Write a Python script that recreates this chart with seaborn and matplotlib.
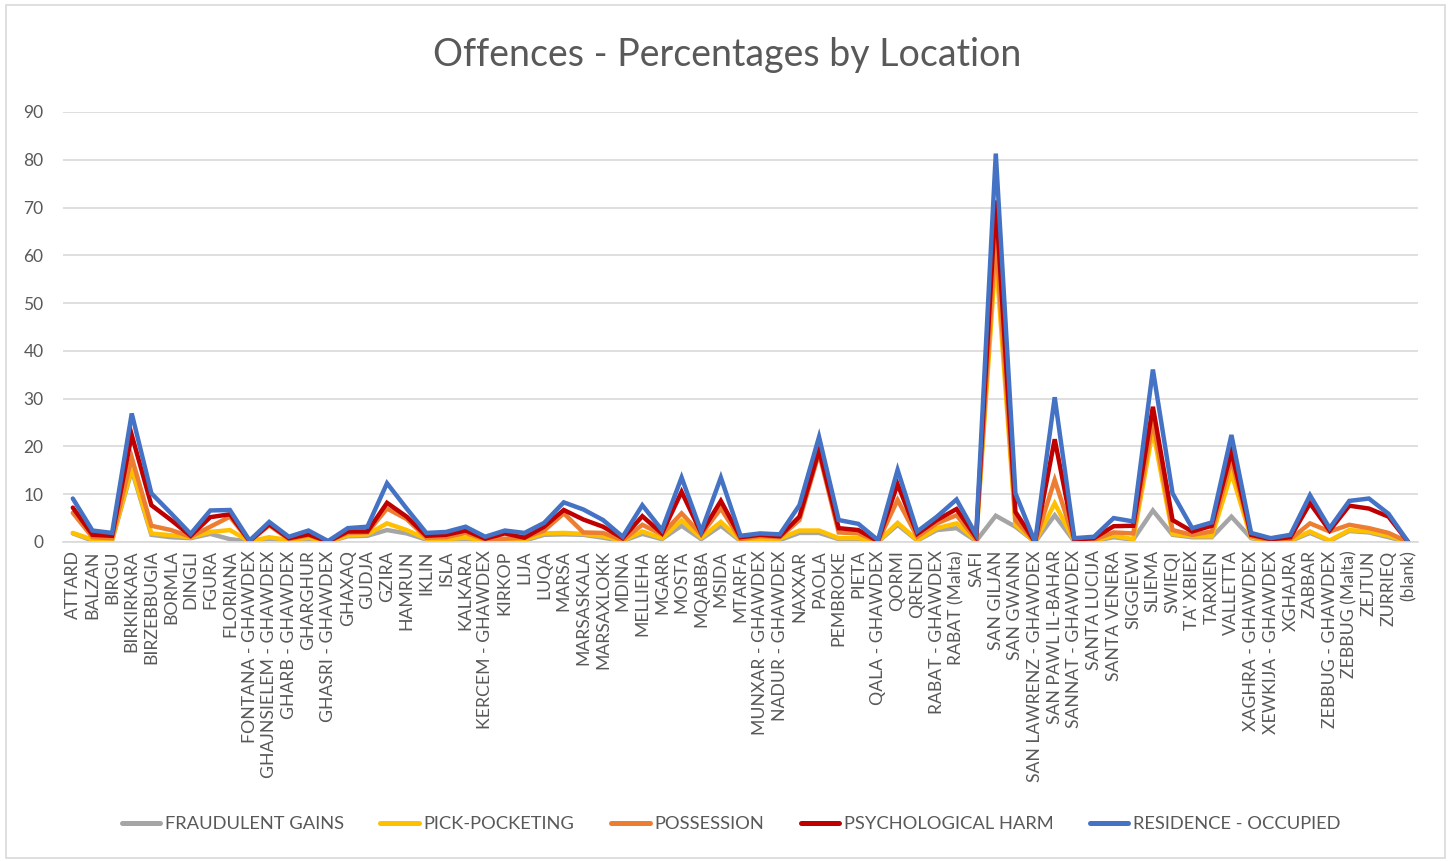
import numpy as np
import pandas as pd
import matplotlib
matplotlib.use("Agg")
import matplotlib.pyplot as plt
from matplotlib.patches import Rectangle
import seaborn as sns

locations = [
    "ATTARD", "BALZAN", "BIRGU", "BIRKIRKARA", "BIRZEBBUGIA", "BORMLA", "DINGLI",
    "FGURA", "FLORIANA", "FONTANA - GHAWDEX", "GHAJNSIELEM - GHAWDEX",
    "GHARB - GHAWDEX", "GHARGHUR", "GHASRI - GHAWDEX", "GHAXAQ", "GUDJA", "GZIRA",
    "HAMRUN", "IKLIN", "ISLA", "KALKARA", "KERCEM - GHAWDEX", "KIRKOP", "LIJA",
    "LUQA", "MARSA", "MARSASKALA", "MARSAXLOKK", "MDINA", "MELLIEHA", "MGARR",
    "MOSTA", "MQABBA", "MSIDA", "MTARFA", "MUNXAR - GHAWDEX", "NADUR - GHAWDEX",
    "NAXXAR", "PAOLA", "PEMBROKE", "PIETA", "QALA - GHAWDEX", "QORMI", "QRENDI",
    "RABAT - GHAWDEX", "RABAT (Malta)", "SAFI", "SAN GILJAN", "SAN GWANN",
    "SAN LAWRENZ - GHAWDEX", "SAN PAWL IL-BAHAR", "SANNAT - GHAWDEX",
    "SANTA LUCIJA", "SANTA VENERA", "SIGGIEWI", "SLIEMA", "SWIEQI", "TA' XBIEX",
    "TARXIEN", "VALLETTA", "XAGHRA - GHAWDEX", "XEWKIJA - GHAWDEX", "XGHAJRA",
    "ZABBAR", "ZEBBUG - GHAWDEX", "ZEBBUG (Malta)", "ZEJTUN", "ZURRIEQ", "(blank)",
]

# Stacked (cumulative) levels as they appear in the chart
fraudulent_gains = [
    1.8, 0.3, 0.3, 15.0, 1.5, 1.0, 0.8, 1.7, 0.6, 0.1, 0.7, 0.3, 0.5, 0.0, 1.2,
    1.3, 2.5, 1.8, 0.5, 0.4, 0.6, 0.2, 0.2, 0.3, 1.5, 1.6, 1.5, 0.9, 0.2, 1.7,
    0.6, 3.4, 0.6, 3.4, 0.2, 0.3, 0.4, 1.9, 1.9, 0.6, 0.6, 0.0, 3.6, 0.3, 2.5,
    2.9, 0.2, 5.5, 3.2, 0.0, 5.6, 0.1, 0.2, 1.0, 0.5, 6.6, 1.5, 1.0, 1.0, 5.3,
    0.8, 0.2, 0.2, 1.9, 0.2, 2.3, 2.0, 1.0, 0.0,
]
pick_pocketing = [
    1.9, 0.5, 0.4, 15.4, 1.8, 1.4, 1.0, 2.1, 2.5, 0.1, 1.0, 0.4, 0.9, 0.0, 1.4,
    1.6, 3.9, 2.5, 0.7, 0.6, 0.9, 0.3, 0.3, 0.5, 1.8, 1.9, 1.7, 1.2, 0.3, 2.2,
    0.8, 4.5, 0.9, 4.2, 0.3, 0.5, 0.7, 2.4, 2.4, 0.8, 0.8, 0.1, 4.0, 0.4, 2.9,
    3.9, 0.3, 60.0, 3.6, 0.0, 8.1, 0.2, 0.3, 1.3, 0.6, 23.4, 1.7, 1.2, 1.2, 14.4,
    0.9, 0.3, 0.3, 2.2, 0.3, 2.5, 2.2, 1.3, 0.0,
]
possession = [
    6.1, 1.0, 0.8, 17.7, 3.4, 2.5, 1.1, 3.2, 5.3, 0.1, 3.5, 0.6, 1.4, 0.1, 1.9,
    2.0, 7.0, 4.8, 0.9, 1.0, 1.9, 0.5, 0.7, 0.9, 2.4, 6.0, 2.0, 1.9, 0.4, 3.6,
    1.6, 6.0, 1.6, 7.0, 0.6, 1.2, 1.0, 4.6, 18.6, 2.0, 1.8, 0.1, 8.8, 1.1, 3.9,
    5.6, 0.5, 64.0, 4.6, 0.0, 13.0, 0.3, 0.5, 2.0, 1.8, 25.5, 2.5, 1.5, 2.2, 17.2,
    1.2, 0.4, 0.6, 3.9, 2.2, 3.6, 2.9, 1.9, 0.0,
]
psychological_harm = [
    7.2, 1.5, 1.3, 22.4, 7.7, 4.6, 1.3, 5.2, 5.8, 0.2, 3.7, 0.8, 1.6, 0.1, 2.2,
    2.2, 8.2, 5.3, 1.3, 1.5, 2.4, 0.7, 1.8, 0.9, 3.2, 6.7, 4.7, 3.2, 0.8, 5.4,
    1.8, 10.5, 1.9, 8.6, 1.0, 1.5, 1.2, 5.3, 19.2, 2.9, 2.5, 0.2, 12.1, 1.7, 4.6,
    6.9, 1.0, 71.5, 6.3, 0.0, 21.5, 0.5, 0.8, 3.3, 3.4, 28.3, 4.6, 2.2, 3.4, 18.9,
    1.5, 0.6, 1.0, 8.1, 2.4, 7.6, 7.0, 5.3, 0.0,
]
residence_occupied = [
    9.1, 2.4, 1.9, 26.9, 10.2, 6.0, 1.7, 6.6, 6.7, 0.3, 4.2, 1.1, 2.4, 0.2, 2.9,
    3.2, 12.3, 7.0, 1.9, 2.1, 3.2, 1.1, 2.4, 1.9, 4.0, 8.3, 6.8, 4.6, 1.1, 7.7,
    2.5, 13.5, 2.2, 13.5, 1.3, 1.8, 1.6, 7.7, 22.0, 4.6, 3.8, 0.4, 15.1, 2.2, 5.3,
    8.9, 1.5, 81.3, 10.2, 0.0, 30.3, 0.8, 1.1, 5.0, 4.3, 36.1, 10.2, 2.9, 4.1, 22.4,
    1.9, 0.8, 1.5, 9.8, 2.9, 8.6, 9.1, 5.9, 0.0,
]

series_names = ["FRAUDULENT GAINS", "PICK-POCKETING", "POSSESSION",
                "PSYCHOLOGICAL HARM", "RESIDENCE - OCCUPIED"]
series_values = [fraudulent_gains, pick_pocketing, possession,
                 psychological_harm, residence_occupied]
series_colors = ["#A5A5A5", "#FFC000", "#ED7D31", "#C00000", "#4472C4"]
y_ticks = [0, 10, 20, 30, 40, 50, 60, 70, 80, 90]

frames = []
for name, vals in zip(series_names, series_values):
    frames.append(pd.DataFrame({"pos": np.arange(len(locations)),
                                "location": locations,
                                "value": vals,
                                "series": name}))
df = pd.concat(frames, ignore_index=True)

sns.set_theme(style="white")
plt.rcParams["font.family"] = ["Lato", "DejaVu Sans"]

W, H = 1452, 861
fig = plt.figure(figsize=(W / 100, H / 100), dpi=100)
ax = fig.add_axes([63 / W, 1 - 542 / H, (1418 - 63) / W, (542 - 112) / H])

sns.lineplot(data=df, x="pos", y="value", hue="series", hue_order=series_names,
             palette=series_colors, linewidth=3.2, ax=ax, legend=False,
             sort=False, estimator=None)
for ln in ax.get_lines():
    ln.set_solid_capstyle("round")
    ln.set_solid_joinstyle("miter")

text_color = "#595959"
grid_color = "#D9D9D9"
ax.set_xlim(-0.5, len(locations) - 0.5)
ax.set_ylim(0, 90)
ax.set_yticks(y_ticks)
ax.set_yticklabels([str(t) for t in y_ticks], fontsize=12.5, color=text_color)
ax.set_xticks(np.arange(len(locations)))
ax.set_xticklabels(locations, rotation=90, fontsize=12.7, color=text_color)
ax.tick_params(axis="both", length=0, pad=6)
ax.tick_params(axis="y", pad=14)
ax.yaxis.grid(True, color=grid_color, linewidth=1.2)
ax.xaxis.grid(False)
ax.set_axisbelow(True)
for side in ["top", "right", "left"]:
    ax.spines[side].set_visible(False)
ax.spines["bottom"].set_color(grid_color)
ax.spines["bottom"].set_linewidth(1.2)
ax.set_xlabel("")
ax.set_ylabel("")

fig.text(727 / W, 1 - 55 / H, "Offences - Percentages by Location",
         ha="center", va="center", fontsize=27, color=text_color)

handles = [plt.Line2D([0], [0], color=c, linewidth=3.6, solid_capstyle="round")
           for c in series_colors]
fig.legend(handles, series_names, loc="center", bbox_to_anchor=(731 / W, 1 - 824 / H),
           ncol=5, frameon=False, fontsize=13.2, handlelength=2.1,
           handletextpad=0.25, columnspacing=2.0, labelcolor=text_color)

fig.patches.append(Rectangle((6 / W, 1 - 858 / H), (1445 - 6) / W, (858 - 5) / H,
                             transform=fig.transFigure, fill=False,
                             edgecolor=grid_color, linewidth=1.2))

fig.savefig("out.png", dpi=100, facecolor="white")
